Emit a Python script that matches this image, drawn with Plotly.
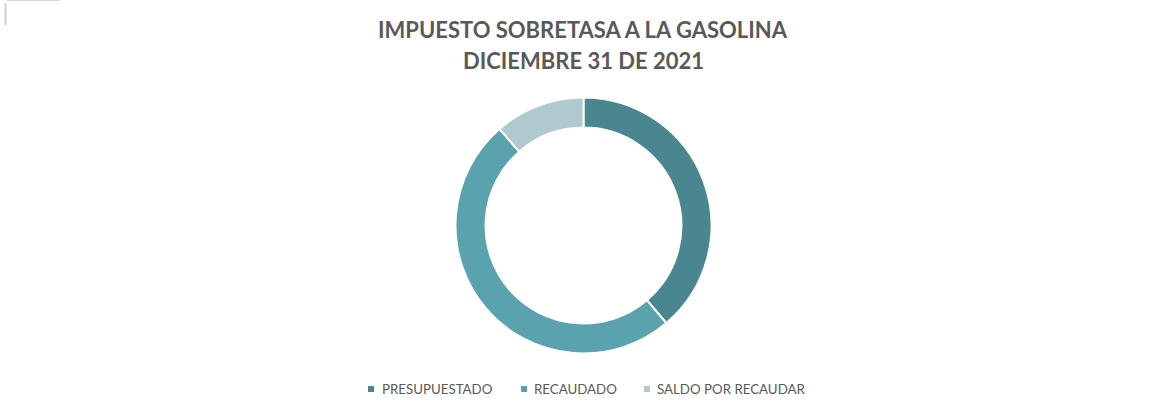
import plotly.graph_objects as go

labels = ["PRESUPUESTADO", "RECAUDADO", "SALDO POR RECAUDAR"]
values = [38.8, 49.8, 11.4]
colors = ["#4A868F", "#5AA3AE", "#AEC9D0"]
title_lines = ["IMPUESTO SOBRETASA A LA GASOLINA", "DICIEMBRE 31 DE 2021"]

W, H = 1153, 408
cx, cy, r = 583.5, 225.5, 128
FONT = "Lato, Open Sans, sans-serif"
GREY = "#595959"


def px(x):
    return x / W


def py(y):
    return 1 - y / H


fig = go.Figure(go.Pie(
    labels=labels, values=values, hole=0.765, sort=False,
    direction="clockwise", rotation=0, textinfo="none", hoverinfo="label+value",
    marker=dict(colors=colors, line=dict(color="white", width=2)),
    domain=dict(x=[px(cx - r), px(cx + r)], y=[py(cy + r), py(cy - r)]),
    showlegend=False,
))

annotations = []
for line, ty in zip(title_lines, [30, 60]):
    annotations.append(dict(text="<b>%s</b>" % line, x=px(cx), y=py(ty), xref="paper", yref="paper",
                            xanchor="center", yanchor="middle", showarrow=False,
                            font=dict(size=22, color=GREY, family=FONT)))

shapes = [
    dict(type="line", xref="paper", yref="paper", x0=px(7), x1=px(60), y0=py(0.5), y1=py(0.5),
         line=dict(color="#D9D9D9", width=1)),
    dict(type="line", xref="paper", yref="paper", x0=px(5.5), x1=px(5.5), y0=py(3), y1=py(25),
         line=dict(color="#D0D0D0", width=2)),
]

# manual legend
marker_x = [368, 521, 644]
text_x = [380, 532, 655]
ly = 389
for lab, col, mx, tx in zip(labels, colors, marker_x, text_x):
    shapes.append(dict(type="rect", xref="paper", yref="paper", x0=px(mx), x1=px(mx + 6),
                       y0=py(ly + 3), y1=py(ly - 3), fillcolor=col, line=dict(width=0)))
    annotations.append(dict(text=lab, x=px(tx), y=py(ly), xref="paper", yref="paper",
                            xanchor="left", yanchor="middle", showarrow=False,
                            font=dict(size=13.3, color=GREY, family=FONT)))

fig.update_layout(
    width=W, height=H, margin=dict(l=0, r=0, t=0, b=0),
    paper_bgcolor="white", plot_bgcolor="white",
    font=dict(family=FONT, color=GREY),
    showlegend=False,
    annotations=annotations,
    shapes=shapes,
)

fig.write_html("out.html", config={"displayModeBar": False},
               post_script="document.body.style.margin='0';")
